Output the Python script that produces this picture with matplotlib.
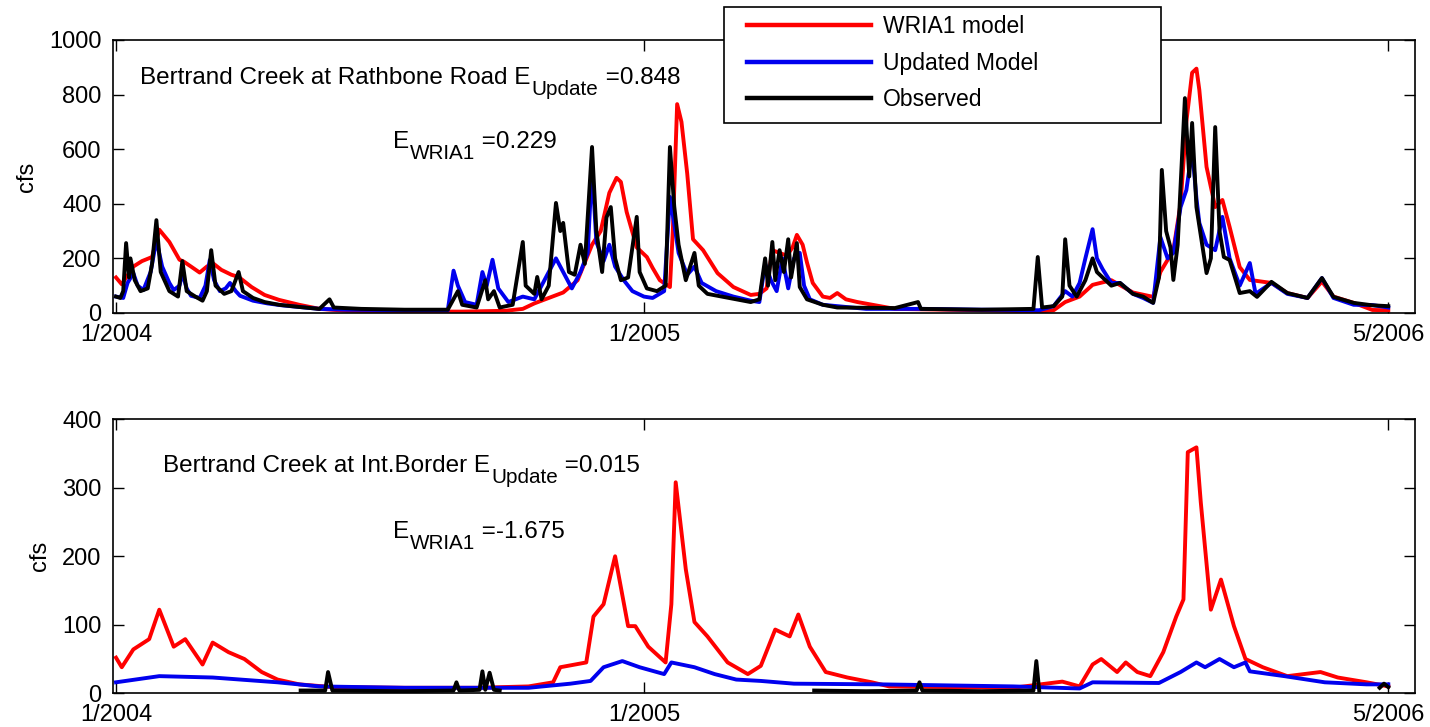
import numpy as np
import matplotlib
matplotlib.use("Agg")
import matplotlib.pyplot as plt
from matplotlib.patches import Rectangle

plt.rcParams['font.family'] = ['Liberation Sans', 'DejaVu Sans']

# dias contados desde 1/1/2004, caudal en cfs
tick_days = [0, 366, 882]
tick_labels = ['1/2004', '1/2005', '5/2006']

# --- Rathbone Road ---
rath_wria_days = [0, 4, 12, 18, 25, 30, 37, 44, 47, 52, 58, 63, 67, 73, 80, 85, 94, 103, 113, 127,
                  141, 160, 200, 240, 270, 282, 290, 300, 310, 320, 330, 336, 342, 347, 350, 354, 361, 368, 372, 377,
                  384, 386, 389, 392, 396, 400, 407, 417, 428, 440, 446, 451, 455, 460, 465, 469, 472, 476, 479, 483,
                  490, 495, 500, 506, 514, 540, 600, 640, 650, 658, 668, 677, 690, 705, 719, 724, 733, 738, 742, 746,
                  749, 751, 756, 762, 767, 772, 779, 786, 801, 812, 826, 836, 844, 858, 871, 882]
rath_wria = [130, 105, 170, 190, 205, 305, 260, 195, 188, 170, 148, 170, 183, 158, 140, 132, 95, 66, 48, 30,
             15, 8, 5, 5, 8, 15, 35, 55, 75, 120, 250, 300, 440, 495, 480, 370, 240, 205, 165, 120,
             95, 300, 765, 700, 510, 270, 230, 146, 95, 66, 70, 90, 230, 220, 210, 240, 286, 250, 185, 110,
             60, 55, 73, 50, 40, 15, 10, 5, 10, 40, 60, 103, 120, 75, 59, 150, 230, 400, 700, 880,
             895, 817, 535, 388, 414, 315, 168, 121, 110, 73, 55, 115, 60, 37, 11, 10]

rath_upd_days = [0, 5, 8, 12, 15, 19, 24, 28, 32, 37, 40, 44, 46, 49, 52, 58, 62, 65, 68, 72,
                 76, 79, 83, 86, 95, 105, 115, 127, 141, 160, 200, 230, 234, 237, 242, 250, 254, 257, 261, 265,
                 272, 282, 290, 297, 305, 310, 316, 322, 327, 330, 333, 338, 342, 346, 352, 358, 362, 366, 372, 380,
                 384, 386, 390, 396, 401, 406, 416, 428, 440, 446, 450, 454, 458, 462, 466, 470, 474, 477, 481, 490,
                 500, 520, 560, 600, 640, 650, 658, 663, 668, 672, 677, 680, 684, 690, 696, 705, 712, 719, 724, 729,
                 733, 738, 742, 746, 749, 751, 756, 762, 767, 772, 779, 786, 790, 801, 812, 826, 836, 844, 858, 871, 882]
rath_upd = [60, 55, 110, 146, 100, 84, 150, 267, 170, 110, 84, 100, 146, 90, 63, 55, 100, 194, 120, 80,
            90, 110, 80, 63, 45, 35, 28, 22, 15, 12, 10, 10, 155, 100, 40, 30, 150, 100, 195, 90,
            40, 60, 50, 120, 200, 150, 90, 150, 220, 535, 260, 190, 250, 170, 120, 80, 70, 60, 55, 80,
            425, 360, 220, 140, 170, 110, 80, 60, 45, 40, 180, 120, 80, 200, 90, 200, 220, 100, 50, 30,
            25, 15, 15, 12, 10, 25, 80, 60, 110, 200, 307, 200, 160, 110, 110, 70, 55, 37, 278, 200,
            220, 388, 450, 600, 420, 330, 250, 230, 352, 200, 100, 183, 70, 110, 70, 55, 128, 55, 30, 29, 20]

rath_obs_days = [0, 3, 5, 7, 9, 10, 13, 17, 22, 25, 28, 31, 37, 43, 46, 49, 55, 60, 63, 66,
                 69, 75, 80, 85, 88, 95, 103, 113, 127, 141, 148, 151, 170, 200, 230, 235, 237, 240, 250, 256,
                 258, 262, 266, 275, 282, 284, 290, 292, 295, 300, 305, 308, 310, 314, 318, 322, 325, 330, 333, 337,
                 340, 343, 346, 350, 355, 361, 363, 368, 375, 381, 384, 387, 390, 395, 401, 404, 410, 420, 440, 446,
                 450, 452, 455, 457, 460, 463, 466, 468, 472, 474, 479, 490, 500, 540, 556, 558, 600, 636, 639, 642,
                 650, 656, 658, 661, 666, 672, 677, 680, 684, 690, 696, 705, 712, 719, 723, 725, 728, 731, 733, 736,
                 741, 744, 746, 749, 753, 756, 759, 762, 765, 768, 772, 779, 786, 791, 801, 812, 826, 836, 844, 858, 871, 882]
rath_obs = [60, 55, 80, 256, 130, 200, 120, 80, 90, 180, 340, 150, 80, 60, 190, 80, 60, 45, 80, 230,
            100, 70, 80, 150, 80, 55, 40, 30, 22, 15, 50, 20, 15, 12, 12, 60, 80, 30, 20, 120,
            50, 80, 20, 30, 260, 100, 70, 132, 50, 100, 403, 300, 330, 150, 140, 250, 180, 608, 300, 150,
            350, 388, 200, 120, 130, 352, 150, 90, 80, 100, 608, 390, 250, 120, 220, 100, 70, 60, 40, 50,
            200, 100, 260, 120, 230, 150, 270, 130, 256, 95, 50, 30, 20, 18, 40, 15, 12, 15, 205, 20,
            25, 60, 270, 100, 60, 120, 200, 150, 130, 100, 110, 70, 60, 37, 130, 524, 300, 240, 121, 250,
            787, 500, 696, 388, 250, 146, 200, 681, 300, 205, 194, 73, 80, 59, 114, 73, 55, 128, 59, 37, 28, 25]

# --- Int. Border ---
bord_wria_days = [0, 4, 12, 23, 30, 40, 48, 60, 67, 78, 89, 101, 112, 127, 150, 200, 250, 286, 303, 308,
                  326, 331, 338, 346, 355, 360, 369, 381, 385, 388, 395, 401, 410, 424, 438, 447, 457, 467, 473, 481,
                  492, 507, 524, 536, 622, 656, 668, 677, 683, 694, 700, 708, 717, 726, 735, 740, 743, 749, 752, 759,
                  766, 775, 783, 795, 812, 835, 847, 867, 882]
bord_wria = [52, 38, 64, 79, 122, 68, 79, 42, 74, 60, 50, 31, 20, 13, 9, 8, 8, 10, 16, 38,
             45, 112, 130, 200, 98, 98, 68, 45, 130, 308, 181, 104, 83, 45, 28, 40, 93, 83, 115, 68,
             31, 23, 16, 10, 8, 17, 10, 42, 50, 31, 45, 31, 25, 60, 112, 137, 352, 359, 279, 122,
             166, 98, 50, 38, 25, 31, 23, 16, 10]

bord_upd_days = [0, 30, 67, 112, 141, 200, 250, 286, 315, 329, 338, 351, 363, 380, 385, 401, 415, 430, 447, 470,
                 530, 622, 668, 677, 723, 738, 749, 755, 765, 775, 783, 786, 810, 838, 867, 882]
bord_upd = [16, 25, 23, 16, 10, 8, 8, 8, 14, 18, 38, 47, 38, 28, 45, 38, 28, 20, 18, 14,
            13, 10, 7, 16, 15, 31, 45, 38, 50, 38, 45, 32, 25, 16, 13, 13]

# observado con huecos (sin dato = nan)
bord_obs_days = [128, 145, 147, 150, 200, 234, 236, 238, 252, 254, 256, 259, 262, 266, 267,
                 484, 520, 555, 557, 559, 600, 636, 638, 640, 641,
                 876, 879, 882]
bord_obs = [4, 4, 31, 4, 3, 4, 16, 4, 5, 32, 5, 30, 5, 4, np.nan,
            4, 3, 4, 16, 4, 3, 4, 47, 4, np.nan,
            8, 14, 9]

W, H = 1430, 727
fig = plt.figure(figsize=(W / 100, H / 100), dpi=100)
ax1 = fig.add_axes([0.0788, 0.5695, 0.9107, 0.3755])
ax2 = fig.add_axes([0.0788, 0.0464, 0.9107, 0.3769])

lw = 2.8
l1, = ax1.plot(rath_wria_days, rath_wria, color='#ff0000', lw=lw)
l2, = ax1.plot(rath_upd_days, rath_upd, color='#0000ee', lw=lw)
l3, = ax1.plot(rath_obs_days, rath_obs, color='black', lw=lw)

ax2.plot(bord_wria_days, bord_wria, color='#ff0000', lw=lw)
ax2.plot(bord_upd_days, bord_upd, color='#0000ee', lw=lw)
ax2.plot(bord_obs_days, bord_obs, color='black', lw=lw)

for ax, ymax, step, lx in [(ax1, 1000, 200, -0.057), (ax2, 400, 100, -0.047)]:
    ax.set_xlim(-2.3, 900.5)
    ax.set_ylim(0, ymax)
    ax.set_yticks(np.arange(0, ymax + 1, step))
    ax.set_xticks(tick_days)
    ax.set_xticklabels(tick_labels)
    ax.tick_params(direction='in', length=8, width=1, top=True, right=True,
                   labelsize=17, pad=8)
    ax.set_ylabel('cfs', fontsize=17)
    ax.yaxis.set_label_coords(lx, 0.5)
    for s in ax.spines.values():
        s.set_linewidth(1.2)

# texto con subindice al estilo MATLAB (subindice grande y bajo)
renderer = fig.canvas.get_renderer()


def texto_sub(ax, x, y, main, sub, rest, fs=17.5):
    t = ax.text(x, y, main, transform=ax.transAxes, fontsize=fs, va='baseline')
    w1 = t.get_window_extent(renderer).width * 72 / fig.dpi
    s = ax.annotate(sub, (x, y), xycoords='axes fraction', xytext=(w1 + 1, -8),
                    textcoords='offset points', fontsize=fs * 0.85, va='baseline')
    w2 = s.get_window_extent(renderer).width * 72 / fig.dpi
    ax.annotate(rest, (x, y), xycoords='axes fraction', xytext=(w1 + 1 + w2, 0),
                textcoords='offset points', fontsize=fs, va='baseline')


texto_sub(ax1, 0.021, 0.839, 'Bertrand Creek at Rathbone Road E', 'Update', ' =0.848')
texto_sub(ax1, 0.215, 0.604, 'E', 'WRIA1', ' =0.229')
texto_sub(ax2, 0.0386, 0.808, 'Bertrand Creek at Int.Border E', 'Update', ' =0.015')
texto_sub(ax2, 0.215, 0.567, 'E', 'WRIA1', ' =-1.675')

# leyenda: marco dibujado aparte (el de MATLAB es mas ancho)
fig.patches.append(Rectangle((724 / W, 1 - 123 / H), (1161 - 724) / W, (123 - 7) / H,
                             transform=fig.transFigure, fill=True, facecolor='white',
                             edgecolor='black', lw=1.2, zorder=5))
leg = fig.legend([l1, l2, l3], ['WRIA1 model', 'Updated Model', 'Observed'],
                 loc='upper left', bbox_to_anchor=(747 / W, 1 - 15 / H),
                 fontsize=16.5, frameon=False, handlelength=5.4,
                 handletextpad=0.55, labelspacing=0.6, borderpad=0, borderaxespad=0)
leg.set_zorder(6)
for h in leg.get_lines():
    h.set_linewidth(3.2)

plt.savefig('out.png', dpi=100)
